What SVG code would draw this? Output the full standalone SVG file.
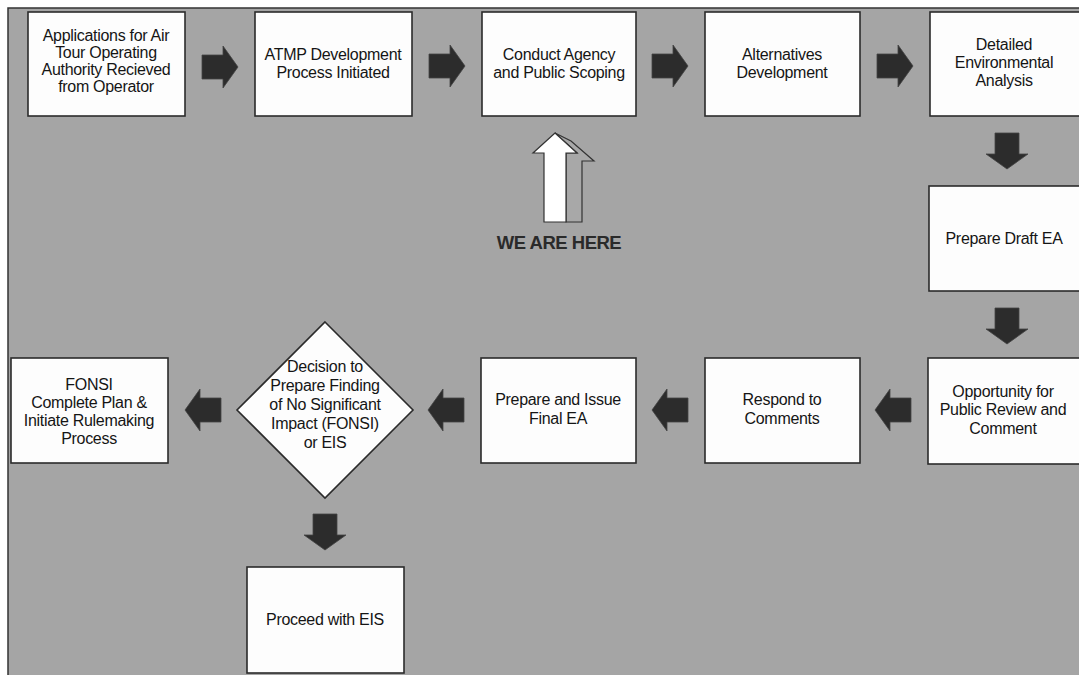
<svg xmlns="http://www.w3.org/2000/svg" width="1079" height="675" viewBox="0 0 1079 675">
<style>
.box{fill:#fdfdfd;stroke:#2b2b2b;stroke-width:1.6}
.t{font-family:"Liberation Sans",Arial,sans-serif;font-size:16px;fill:#151515;text-anchor:middle;letter-spacing:-0.3px}
.arr{fill:#2c2c2c;stroke:#444;stroke-width:0.8}
</style>
<defs>
<path id="ra" d="M-18,-12 H3 V-21 L18,0 L3,21 V12 H-18 Z"/>
</defs>
<rect x="0" y="0" width="1079" height="675" fill="#ffffff"/>
<rect x="8" y="8" width="1075" height="670" fill="#a5a5a5" stroke="#333" stroke-width="1.5"/>

<g id="connectors">
<use href="#ra" class="arr" transform="translate(220,67)"/>
<use href="#ra" class="arr" transform="translate(447,66)"/>
<use href="#ra" class="arr" transform="translate(670,66)"/>
<use href="#ra" class="arr" transform="translate(895,66)"/>
<use href="#ra" class="arr" transform="translate(1007,151) rotate(90)"/>
<use href="#ra" class="arr" transform="translate(1007,326) rotate(90)"/>
<use href="#ra" class="arr" transform="translate(893,410) rotate(180)"/>
<use href="#ra" class="arr" transform="translate(670,410) rotate(180)"/>
<use href="#ra" class="arr" transform="translate(446,410) rotate(180)"/>
<use href="#ra" class="arr" transform="translate(203,410) rotate(180)"/>
<use href="#ra" class="arr" transform="translate(325,532) rotate(90)"/>
</g>

<g id="n1"><rect class="box" x="28" y="12" width="157" height="104"/>
<text class="t" x="106" y="41">Applications for Air</text>
<text class="t" x="106" y="58">Tour Operating</text>
<text class="t" x="106" y="75">Authority Recieved</text>
<text class="t" x="106" y="92">from Operator</text></g>

<g id="n2"><rect class="box" x="255" y="12" width="157" height="104"/>
<text class="t" x="333" y="60">ATMP Development</text>
<text class="t" x="333" y="78">Process Initiated</text></g>

<g id="n3"><rect class="box" x="482" y="12" width="154" height="104"/>
<text class="t" x="559" y="60">Conduct Agency</text>
<text class="t" x="559" y="78">and Public Scoping</text></g>

<g id="n4"><rect class="box" x="705" y="12" width="155" height="104"/>
<text class="t" x="782" y="60">Alternatives</text>
<text class="t" x="782" y="78">Development</text></g>

<g id="n5"><rect class="box" x="930" y="12" width="160" height="104"/>
<text class="t" x="1004" y="50">Detailed</text>
<text class="t" x="1004" y="68">Environmental</text>
<text class="t" x="1004" y="86">Analysis</text></g>

<g id="n6"><rect class="box" x="929" y="186" width="160" height="105"/>
<text class="t" x="1004" y="244">Prepare Draft EA</text></g>

<g id="n7"><rect class="box" x="928" y="358" width="160" height="106"/>
<text class="t" x="1003" y="397">Opportunity for</text>
<text class="t" x="1003" y="415">Public Review and</text>
<text class="t" x="1003" y="434">Comment</text></g>

<g id="n8"><rect class="box" x="705" y="358" width="155" height="105"/>
<text class="t" x="782" y="405">Respond to</text>
<text class="t" x="782" y="424">Comments</text></g>

<g id="n9"><rect class="box" x="481" y="358" width="155" height="105"/>
<text class="t" x="558" y="405">Prepare and Issue</text>
<text class="t" x="558" y="424">Final EA</text></g>

<g id="n10"><polygon class="box" points="325,322 413,410 325,498 237,410"/>
<text class="t" x="325" y="372">Decision to</text>
<text class="t" x="325" y="391">Prepare Finding</text>
<text class="t" x="325" y="410">of No Significant</text>
<text class="t" x="325" y="429">Impact (FONSI)</text>
<text class="t" x="325" y="448">or EIS</text></g>

<g id="n11"><rect class="box" x="11" y="358" width="157" height="105"/>
<text class="t" x="89" y="390">FONSI</text>
<text class="t" x="89" y="408">Complete Plan &amp;</text>
<text class="t" x="89" y="426">Initiate Rulemaking</text>
<text class="t" x="89" y="444">Process</text></g>

<g id="n12"><rect class="box" x="247" y="567" width="157" height="106"/>
<text class="t" x="325" y="625">Proceed with EIS</text></g>

<g id="here">
<polygon points="555,133 571,141 594,161 582,161 582,222 566,222 566,153 577,153" fill="#a8a8a8" stroke="#333" stroke-width="1.2"/>
<polygon points="555,133 533,153 544,153 544,222 566,222 566,153 577,153" fill="#ffffff" stroke="#333" stroke-width="1.2"/>
<text x="559" y="249" font-family="Liberation Sans,Arial,sans-serif" font-size="18.5" font-weight="bold" fill="#2a2a2a" text-anchor="middle" letter-spacing="-0.5">WE ARE HERE</text>
</g>
</svg>
